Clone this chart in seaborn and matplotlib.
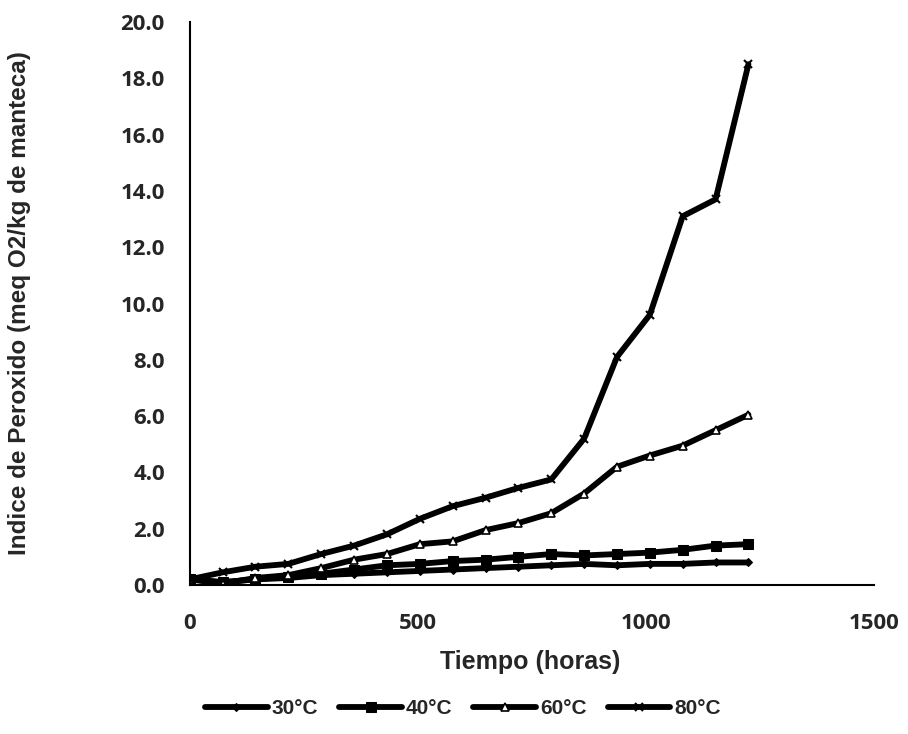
import matplotlib
matplotlib.use("Agg")
import matplotlib.pyplot as plt
import seaborn as sns
import pandas as pd

hours = [0, 72, 144, 216, 288, 360, 432, 504, 576, 648, 720, 792, 864, 936, 1008, 1080, 1152, 1224]
t30 = [0.2, 0.1, 0.2, 0.25, 0.35, 0.4, 0.45, 0.5, 0.55, 0.6, 0.65, 0.7, 0.75, 0.7, 0.75, 0.75, 0.8, 0.8]
t40 = [0.2, 0.1, 0.2, 0.3, 0.4, 0.55, 0.7, 0.75, 0.85, 0.9, 1.0, 1.1, 1.05, 1.1, 1.15, 1.25, 1.4, 1.45]
t60 = [0.2, 0.05, 0.25, 0.35, 0.6, 0.9, 1.1, 1.45, 1.55, 1.95, 2.2, 2.55, 3.25, 4.2, 4.6, 4.95, 5.5, 6.05]
t80 = [0.2, 0.45, 0.65, 0.75, 1.1, 1.4, 1.8, 2.35, 2.8, 3.1, 3.45, 3.75, 5.2, 8.1, 9.6, 13.1, 13.7, 18.5]
labels = ["30°C", "40°C", "60°C", "80°C"]

sns.set_theme(style="white")
plt.rcParams['font.family'] = ['Liberation Sans', 'DejaVu Sans']

fig = plt.figure(figsize=(9.08, 7.34), dpi=100)
ax = fig.add_axes([0.209, 0.203, 0.754, 0.767])

styles = [
    dict(marker="D", markersize=4, markerfacecolor="black"),
    dict(marker="s", markersize=7, markerfacecolor="black"),
    dict(marker="^", markersize=6, markerfacecolor="white", markeredgewidth=1.2),
    dict(marker="x", markersize=6, markeredgewidth=1.5),
]
for vals, lab, st in zip([t30, t40, t60, t80], labels, styles):
    df = pd.DataFrame({"Tiempo": hours, "PV": vals})
    sns.lineplot(data=df, x="Tiempo", y="PV", ax=ax, color="black", linewidth=4.2,
                 label=lab, markeredgecolor="black", **st)

ax.set_xlim(0, 1500)
ax.set_ylim(0, 20)
ax.set_xticks([0, 500, 1000, 1500])
ax.set_yticks([i * 2.0 for i in range(11)])
ax.set_yticklabels([f"{v:.1f}" for v in ax.get_yticks()])
ax.tick_params(axis='both', labelsize=16, labelfontfamily='Open Sans', length=0)
for lbl in ax.get_xticklabels() + ax.get_yticklabels():
    lbl.set_fontweight('bold')
ax.tick_params(axis='x', pad=20)
ax.tick_params(axis='y', pad=18)

ax.set_xlabel("Tiempo (horas)", fontsize=18, fontweight='bold')
ax.set_ylabel("Indice de Peroxido (meq O2/kg de manteca)", fontsize=17.5, fontweight='bold')
ax.xaxis.set_label_coords(0.497, -0.115)
ax.yaxis.set_label_coords(-0.232, 0.5)

for s in ["top", "right"]:
    ax.spines[s].set_visible(False)
for s in ["left", "bottom"]:
    ax.spines[s].set_color("black")
    ax.spines[s].set_linewidth(1.5)
ax.grid(False)

ax.legend_.remove()
handles, labs = ax.get_legend_handles_labels()
fig.legend(handles, labs, loc="center", bbox_to_anchor=(0.51, 0.035), ncol=4,
           frameon=False, handlelength=3.0, columnspacing=1.0, handletextpad=0.2,
           prop={'weight': 'bold', 'size': 15})

fig.savefig("out.png", dpi=100, facecolor="white")
